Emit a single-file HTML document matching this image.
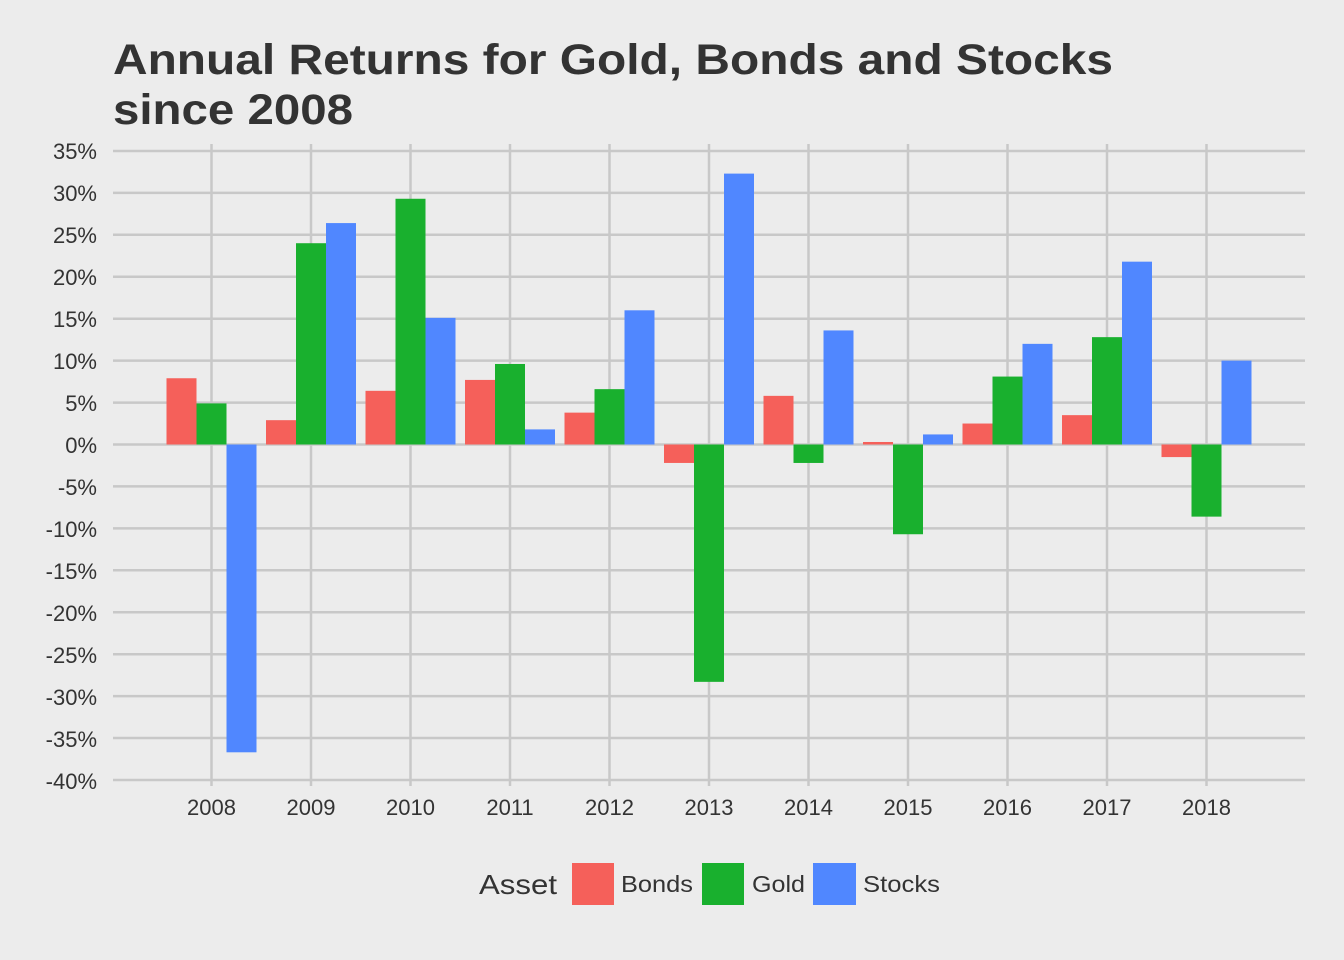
<!DOCTYPE html>
<html><head><meta charset="utf-8"><style>
html,body{margin:0;padding:0;background:#ececec;}
svg{display:block;font-family:"Liberation Sans",Arial,sans-serif;}
</style></head><body>
<svg width="1344" height="960" viewBox="0 0 1344 960">
<rect width="1344" height="960" fill="#ececec"/>
<text x="113" y="74" font-size="43" font-weight="bold" fill="#333" textLength="1000" lengthAdjust="spacingAndGlyphs">Annual Returns for Gold, Bonds and Stocks</text>
<text x="113" y="124" font-size="43" font-weight="bold" fill="#333" textLength="240" lengthAdjust="spacingAndGlyphs">since 2008</text>
<g stroke="#c8c8c8" stroke-width="2.5">
<line x1="113" x2="1305" y1="151" y2="151"/><line x1="113" x2="1305" y1="192.9" y2="192.9"/>
<line x1="113" x2="1305" y1="234.8" y2="234.8"/><line x1="113" x2="1305" y1="276.8" y2="276.8"/>
<line x1="113" x2="1305" y1="318.7" y2="318.7"/><line x1="113" x2="1305" y1="360.6" y2="360.6"/>
<line x1="113" x2="1305" y1="402.6" y2="402.6"/><line x1="113" x2="1305" y1="444.5" y2="444.5"/>
<line x1="113" x2="1305" y1="486.4" y2="486.4"/><line x1="113" x2="1305" y1="528.4" y2="528.4"/>
<line x1="113" x2="1305" y1="570.3" y2="570.3"/><line x1="113" x2="1305" y1="612.2" y2="612.2"/>
<line x1="113" x2="1305" y1="654.2" y2="654.2"/><line x1="113" x2="1305" y1="696.1" y2="696.1"/>
<line x1="113" x2="1305" y1="738" y2="738"/><line x1="113" x2="1305" y1="780" y2="780"/>
<line x1="211.5" x2="211.5" y1="144" y2="786"/><line x1="311" x2="311" y1="144" y2="786"/>
<line x1="410.5" x2="410.5" y1="144" y2="786"/><line x1="510" x2="510" y1="144" y2="786"/>
<line x1="609.5" x2="609.5" y1="144" y2="786"/><line x1="709" x2="709" y1="144" y2="786"/>
<line x1="808.5" x2="808.5" y1="144" y2="786"/><line x1="908" x2="908" y1="144" y2="786"/>
<line x1="1007.5" x2="1007.5" y1="144" y2="786"/><line x1="1107" x2="1107" y1="144" y2="786"/>
<line x1="1206.5" x2="1206.5" y1="144" y2="786"/>
</g>
<g transform="translate(0,444.5) scale(1,-8.387)">
<g fill="#f5605a">
<rect x="166.5" y="0" width="30" height="7.9"/>
<rect x="266" y="0" width="30" height="2.9"/>
<rect x="365.5" y="0" width="30" height="6.4"/>
<rect x="465" y="0" width="30" height="7.7"/>
<rect x="564.5" y="0" width="30" height="3.8"/>
<rect x="664" y="-2.2" width="30" height="2.2"/>
<rect x="763.5" y="0" width="30" height="5.8"/>
<rect x="863" y="0" width="30" height="0.3"/>
<rect x="962.5" y="0" width="30" height="2.5"/>
<rect x="1062" y="0" width="30" height="3.5"/>
<rect x="1161.5" y="-1.5" width="30" height="1.5"/>
</g>
<g fill="#19b02e">
<rect x="196.5" y="0" width="30" height="4.9"/>
<rect x="296" y="0" width="30" height="24"/>
<rect x="395.5" y="0" width="30" height="29.3"/>
<rect x="495" y="0" width="30" height="9.6"/>
<rect x="594.5" y="0" width="30" height="6.6"/>
<rect x="694" y="-28.3" width="30" height="28.3"/>
<rect x="793.5" y="-2.2" width="30" height="2.2"/>
<rect x="893" y="-10.7" width="30" height="10.7"/>
<rect x="992.5" y="0" width="30" height="8.1"/>
<rect x="1092" y="0" width="30" height="12.8"/>
<rect x="1191.5" y="-8.6" width="30" height="8.6"/>
</g>
<g fill="#5087ff">
<rect x="226.5" y="-36.7" width="30" height="36.7"/>
<rect x="326" y="0" width="30" height="26.4"/>
<rect x="425.5" y="0" width="30" height="15.1"/>
<rect x="525" y="0" width="30" height="1.8"/>
<rect x="624.5" y="0" width="30" height="16"/>
<rect x="724" y="0" width="30" height="32.3"/>
<rect x="823.5" y="0" width="30" height="13.6"/>
<rect x="923" y="0" width="30" height="1.2"/>
<rect x="1022.5" y="0" width="30" height="12"/>
<rect x="1122" y="0" width="30" height="21.8"/>
<rect x="1221.5" y="0" width="30" height="10"/>
</g>
</g>
<g font-size="22" fill="#333" text-anchor="end">
<text x="97" y="159">35%</text><text x="97" y="201">30%</text><text x="97" y="243">25%</text>
<text x="97" y="285">20%</text><text x="97" y="327">15%</text><text x="97" y="369">10%</text>
<text x="97" y="411">5%</text><text x="97" y="453">0%</text><text x="97" y="495">-5%</text>
<text x="97" y="537">-10%</text><text x="97" y="579">-15%</text><text x="97" y="621">-20%</text>
<text x="97" y="663">-25%</text><text x="97" y="705">-30%</text><text x="97" y="747">-35%</text>
<text x="97" y="789">-40%</text>
</g>
<g font-size="22" fill="#333" text-anchor="middle">
<text x="211.5" y="815">2008</text><text x="311" y="815">2009</text><text x="410.5" y="815">2010</text>
<text x="510" y="815">2011</text><text x="609.5" y="815">2012</text><text x="709" y="815">2013</text>
<text x="808.5" y="815">2014</text><text x="908" y="815">2015</text><text x="1007.5" y="815">2016</text>
<text x="1107" y="815">2017</text><text x="1206.5" y="815">2018</text>
</g>
<text x="479" y="894" font-size="28" fill="#333" textLength="78" lengthAdjust="spacingAndGlyphs">Asset</text>
<rect x="572" y="863" width="42" height="42" fill="#f5605a"/>
<text x="621" y="892" font-size="23" fill="#333" textLength="72" lengthAdjust="spacingAndGlyphs">Bonds</text>
<rect x="702" y="863" width="42" height="42" fill="#19b02e"/>
<text x="752" y="892" font-size="23" fill="#333" textLength="53" lengthAdjust="spacingAndGlyphs">Gold</text>
<rect x="813" y="863" width="43" height="42" fill="#5087ff"/>
<text x="863" y="892" font-size="23" fill="#333" textLength="77" lengthAdjust="spacingAndGlyphs">Stocks</text>
</svg>
</body></html>
